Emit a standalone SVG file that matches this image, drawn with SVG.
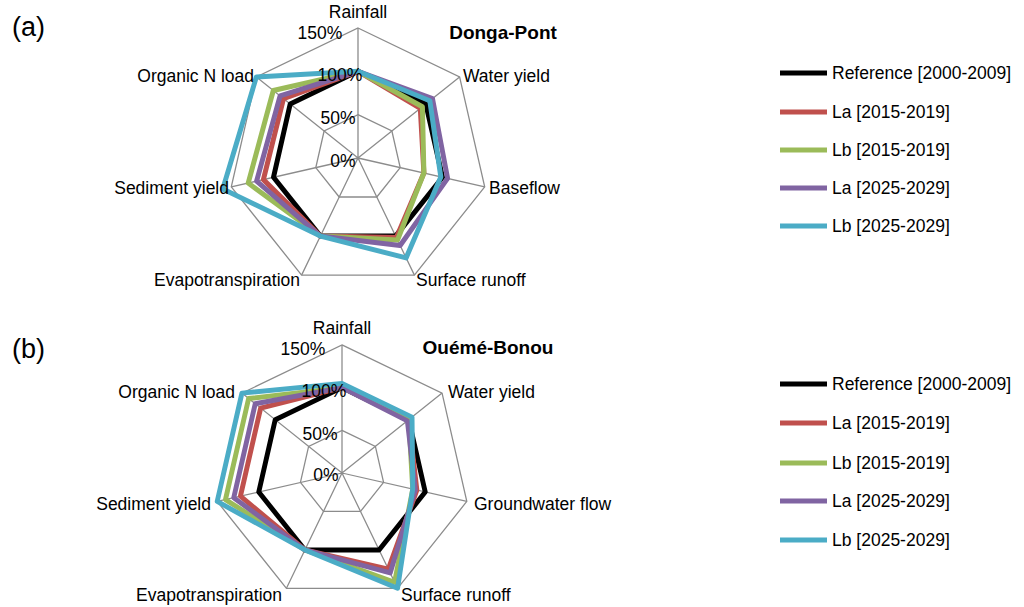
<svg xmlns="http://www.w3.org/2000/svg" xmlns:xlink="http://www.w3.org/1999/xlink" width="1024" height="607" viewBox="0 0 1024 607">
<style>
text{font-family:"Liberation Sans",Arial,sans-serif;font-size:17.5px;fill:#000}
.g{fill:none;stroke:#8c8c8c;stroke-width:1.3}
.s{fill:none;stroke-width:5;stroke-linejoin:round}
.ref{stroke:#000}.la1{stroke:#c0504d}.lb1{stroke:#9bbb59}.la2{stroke:#8064a2}.lb2{stroke:#4bacc6}
.t{font-weight:bold;font-size:19px}
.p{font-size:27px}
.m{text-anchor:middle}.e{text-anchor:end}
</style>
<defs>
<g id="grid">
<polygon class="g" points="0,-43.3 33.9,-27 42.2,9.6 18.8,39 -18.8,39 -42.2,9.6 -33.9,-27"/>
<polygon class="g" points="0,-86.7 67.8,-54 84.5,19.3 37.6,78.1 -37.6,78.1 -84.5,19.3 -67.8,-54"/>
<polygon class="g" points="0,-130 101.6,-81.1 126.7,28.9 56.4,117.1 -56.4,117.1 -126.7,28.9 -101.6,-81.1"/>
<path class="g" d="M0,0L0,-130M0,0L101.6,-81.1M0,0L126.7,28.9M0,0L56.4,117.1M0,0L-56.4,117.1M0,0L-126.7,28.9M0,0L-101.6,-81.1"/>
</g>
</defs>
<g id="chart-a" transform="translate(358,158)">
<use xlink:href="#grid"/>
<g id="series-a">
<polygon class="s ref" points="0,-86.7 67.8,-54 84.5,19.3 37.6,78.1 -37.6,78.1 -84.5,19.3 -67.8,-54"/>
<polygon class="s la1" points="0,-86.7 62.3,-49.7 65.9,15 38.4,79.6 -37.6,78.1 -94.6,21.6 -74.5,-59.4"/>
<polygon class="s lb1" points="0,-86.7 64.4,-51.3 65.9,15 39.5,82 -37.6,78.1 -109.8,25.1 -84.7,-67.5"/>
<polygon class="s la2" points="0,-86.7 74.5,-59.4 89.6,20.4 42.1,87.5 -37.6,78.1 -101.4,23.1 -77.9,-62.1"/>
<polygon class="s lb2" points="0,-86.7 71.8,-57.3 82.8,18.9 48.1,99.9 -37.6,78.1 -135.2,30.9 -101.6,-81.1"/>
</g>
</g>
<g id="chart-b" transform="translate(342,473) scale(0.985)">
<use xlink:href="#grid"/>
<g id="series-b">
<polygon class="s ref" points="0,-86.7 67.8,-54 84.5,19.3 37.6,78.1 -37.6,78.1 -84.5,19.3 -67.8,-54"/>
<polygon class="s la1" points="0,-86.7 67.8,-54 76,17.4 47,97.6 -37.6,78.1 -103.1,23.5 -82.6,-65.9"/>
<polygon class="s lb1" points="0,-86.7 67.8,-54 71.8,16.4 53.4,110.9 -37.6,78.1 -118.3,27 -94.8,-75.6"/>
<polygon class="s la2" points="0,-86.7 66.4,-52.9 74.4,17 48.9,101.5 -37.6,78.1 -109.9,25.1 -88.1,-70.3"/>
<polygon class="s lb2" points="0,-91 71.1,-56.7 71.8,16.4 56.4,117.1 -37.6,78.1 -126.7,28.9 -101.6,-81.1"/>
</g>
</g>
<g id="labels-a">
<text class="p" x="12" y="36">(a)</text>
<text class="t m" x="503" y="39">Donga-Pont</text>
<text class="m" x="358" y="18">Rainfall</text>
<text x="463" y="82">Water yield</text>
<text x="489" y="194">Baseflow</text>
<text x="416" y="286">Surface runoff</text>
<text class="e" x="300" y="286">Evapotranspiration</text>
<text class="e" x="229" y="194">Sediment yield</text>
<text class="e" x="254" y="82">Organic N load</text>
<text class="m" x="320" y="39">150%</text>
<text class="m" x="340" y="81">100%</text>
<text class="m" x="338" y="124">50%</text>
<text class="m" x="343" y="167">0%</text>
</g>
<g id="labels-b">
<text class="p" x="12" y="358">(b)</text>
<text class="t m" x="488" y="354">Ouémé-Bonou</text>
<text class="m" x="342" y="334">Rainfall</text>
<text x="448" y="398">Water yield</text>
<text x="474" y="510">Groundwater flow</text>
<text x="401" y="601">Surface runoff</text>
<text class="e" x="282" y="601">Evapotranspiration</text>
<text class="e" x="211" y="510">Sediment yield</text>
<text class="e" x="235" y="398">Organic N load</text>
<text class="m" x="303" y="355">150%</text>
<text class="m" x="324" y="397">100%</text>
<text class="m" x="320" y="440">50%</text>
<text class="m" x="326" y="481">0%</text>
</g>
<g id="legend-a">
<path class="s ref" d="M780,73H827"/><text x="832" y="79">Reference [2000-2009]</text>
<path class="s la1" d="M780,112H827"/><text x="832" y="118">La [2015-2019]</text>
<path class="s lb1" d="M780,150H827"/><text x="832" y="156">Lb [2015-2019]</text>
<path class="s la2" d="M780,188H827"/><text x="832" y="194">La [2025-2029]</text>
<path class="s lb2" d="M780,226H827"/><text x="832" y="232">Lb [2025-2029]</text>
</g>
<g id="legend-b">
<path class="s ref" d="M780,384H827"/><text x="832" y="390">Reference [2000-2009]</text>
<path class="s la1" d="M780,423H827"/><text x="832" y="429">La [2015-2019]</text>
<path class="s lb1" d="M780,463H827"/><text x="832" y="469">Lb [2015-2019]</text>
<path class="s la2" d="M780,501H827"/><text x="832" y="507">La [2025-2029]</text>
<path class="s lb2" d="M780,540H827"/><text x="832" y="546">Lb [2025-2029]</text>
</g>
</svg>
